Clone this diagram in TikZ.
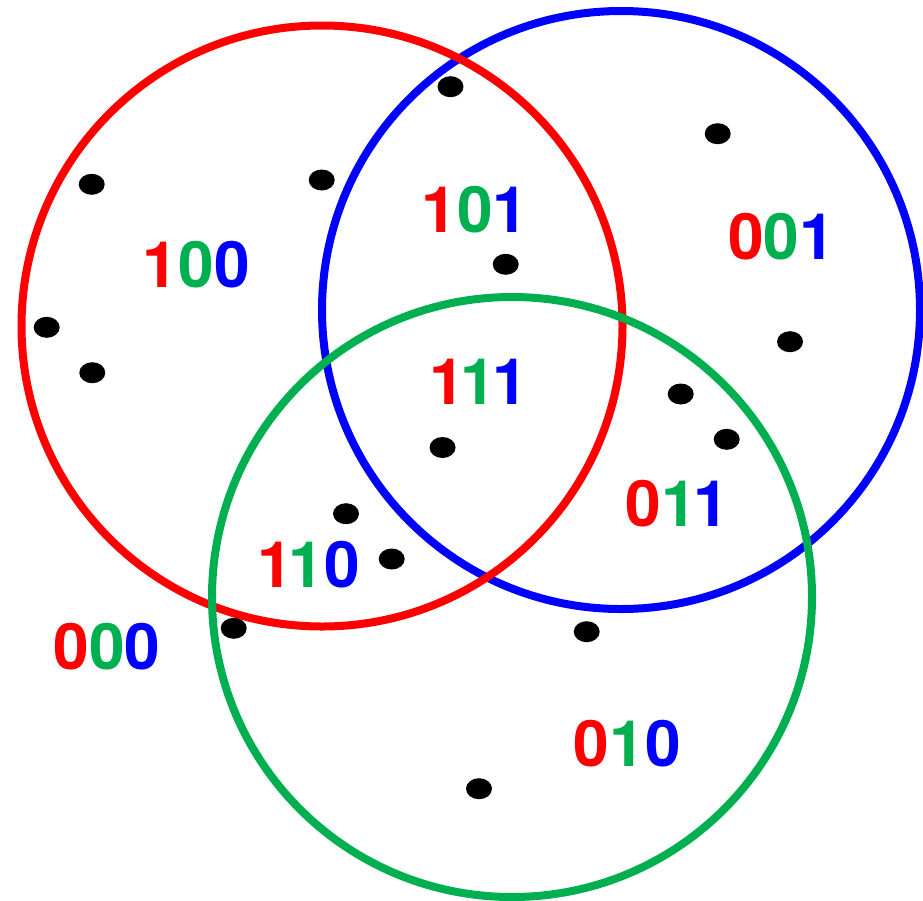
\documentclass[tikz,border=0pt]{standalone}
\usepackage{fontspec}
\setmainfont{TeX Gyre Heros}
\usetikzlibrary{shapes.geometric}
\definecolor{vred}{RGB}{255,0,0}
\definecolor{vblue}{RGB}{0,0,255}
\definecolor{vgreen}{RGB}{0,176,80}
\newcommand{\vk}{\kern-3.9pt}
\tikzset{
  ring/.style={line width=8pt},
  dot/.style={ellipse, fill=black, inner sep=0pt, minimum width=26pt, minimum height=21pt},
  lbl/.style={inner sep=0pt, font=\fontsize{64}{70}\selectfont\bfseries}
}
\begin{document}
\begin{tikzpicture}[x=1pt,y=-1pt]
\useasboundingbox (0,0) rectangle (923,900);
% circles: blue, red, green (green on top)
\draw[ring, vblue] (621,310) circle (299);
\draw[ring, vred] (322,326) circle (300.5);
\draw[ring, vgreen] (512,597) circle (300);
% dots
\node[dot] (d1) at (450.5,86.7) {};
\node[dot] (d2) at (717.7,133.7) {};
\node[dot] (d3) at (91.7,184.3) {};
\node[dot] (d4) at (321.7,180) {};
\node[dot] (d5) at (505.7,264.3) {};
\node[dot] (d6) at (46.7,327.3) {};
\node[dot] (d7) at (92.3,372.7) {};
\node[dot] (d8) at (790,341.7) {};
\node[dot] (d9) at (680.7,394) {};
\node[dot] (d10) at (726.7,439.3) {};
\node[dot] (d11) at (442.5,447.5) {};
\node[dot] (d12) at (346,513.7) {};
\node[dot] (d13) at (391.7,559) {};
\node[dot] (d14) at (233.7,628.3) {};
\node[dot] (d15) at (586.7,631.7) {};
\node[dot] (d16) at (479,788.7) {};
% labels
\node[lbl] (l100) at (196.3,265) {\textcolor{vred}{1}\textcolor{vgreen}{0}\textcolor{vblue}{0}};
\node[lbl] (l101) at (475,210) {\textcolor{vred}{1}\textcolor{vgreen}{0}\textcolor{vblue}{1}};
\node[lbl] (l001) at (781.4,236.7) {\textcolor{vred}{0}\textcolor{vgreen}{0}\textcolor{vblue}{1}};
\node[lbl] (l111) at (478.7,381.8) {\textcolor{vred}{1}\vk\textcolor{vgreen}{1}\vk\textcolor{vblue}{1}};
\node[lbl] (l011) at (677.2,503.7) {\textcolor{vred}{0}\textcolor{vgreen}{1}\vk\textcolor{vblue}{1}};
\node[lbl] (l110) at (308.5,565) {\textcolor{vred}{1}\vk\textcolor{vgreen}{1}\textcolor{vblue}{0}};
\node[lbl] (l000) at (107,647) {\textcolor{vred}{0}\textcolor{vgreen}{0}\textcolor{vblue}{0}};
\node[lbl] (l010) at (627.3,743.3) {\textcolor{vred}{0}\textcolor{vgreen}{1}\textcolor{vblue}{0}};
\end{tikzpicture}
\end{document}
